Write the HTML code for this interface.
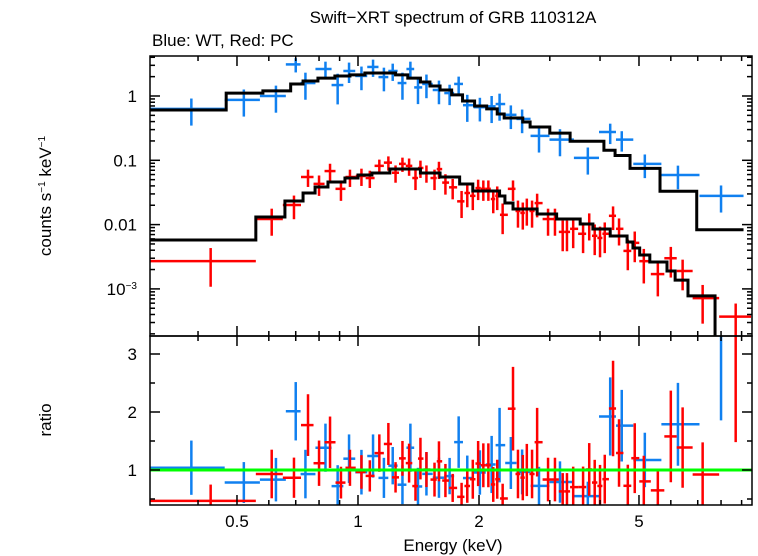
<!DOCTYPE html>
<html><head><meta charset="utf-8"><style>
html,body{margin:0;padding:0;background:#fff;}
svg{display:block;font-family:"Liberation Sans",Arial,sans-serif;}
</style></head><body>
<svg id="c" width="758" height="556" viewBox="0 0 758 556"></svg>
<script>
// ---- data ----
const wtEnergy=[0.385,0.52,0.625,0.70,0.74,0.83,0.89,0.95,1.02,1.09,1.16,1.22,1.29,1.35,1.41,1.48,1.59,1.69,1.78,1.87,2.01,2.15,2.25,2.40,2.56,2.82,3.18,3.73,4.24,4.53,5.17,6.25,8.0];
const wtRate=[0.63,0.87,1.0,3.1,1.59,2.63,1.48,2.45,2.05,2.83,1.97,2.45,1.59,2.63,1.36,1.54,1.24,1.11,1.54,0.72,0.67,0.69,0.75,0.51,0.44,0.24,0.21,0.109,0.275,0.21,0.088,0.059,0.028];
const wtErr=[0.45,0.45,0.45,0.25,0.45,0.3,0.5,0.35,0.4,0.3,0.4,0.3,0.45,0.3,0.45,0.4,0.4,0.35,0.3,0.45,0.4,0.45,0.45,0.4,0.4,0.45,0.45,0.45,0.35,0.35,0.4,0.4,0.45];
const wtFirstBin=[0.304,0.466];
const pcEnergy=[0.43,0.61,0.693,0.751,0.80,0.852,0.907,0.955,1.02,1.07,1.13,1.19,1.24,1.29,1.34,1.39,1.43,1.48,1.55,1.59,1.65,1.72,1.81,1.87,1.93,1.99,2.05,2.11,2.17,2.22,2.29,2.43,2.50,2.57,2.63,2.71,2.79,2.97,3.09,3.23,3.31,3.43,3.63,3.76,3.88,4.00,4.11,4.31,4.46,4.69,4.88,5.14,5.57,6.00,6.42,7.2,8.7];
const pcRate=[0.0027,0.0122,0.0202,0.055,0.043,0.068,0.036,0.055,0.057,0.053,0.082,0.092,0.064,0.088,0.082,0.053,0.076,0.064,0.053,0.073,0.045,0.038,0.023,0.031,0.028,0.037,0.036,0.036,0.025,0.028,0.0142,0.036,0.0163,0.0152,0.0175,0.0163,0.0216,0.0122,0.0122,0.0077,0.0077,0.0086,0.0072,0.0103,0.0067,0.0062,0.0072,0.0137,0.0086,0.0039,0.0052,0.0027,0.0017,0.0030,0.0019,0.00072,0.00037];
const pcErr=[0.6,0.45,0.4,0.3,0.35,0.3,0.35,0.3,0.3,0.3,0.25,0.25,0.3,0.25,0.3,0.35,0.3,0.3,0.35,0.3,0.35,0.35,0.45,0.4,0.4,0.35,0.35,0.35,0.4,0.4,0.5,0.35,0.45,0.45,0.45,0.45,0.4,0.45,0.45,0.5,0.5,0.5,0.5,0.45,0.5,0.5,0.5,0.4,0.45,0.5,0.5,0.55,0.55,0.5,0.5,0.6,0.6];
const pcFirstBin=[0.304,0.557];
const wtModelEdges=[0.304,0.47,0.58,0.68,0.73,0.795,0.876,0.955,1.04,1.24,1.33,1.43,1.51,1.60,1.71,1.82,1.95,2.09,2.22,2.31,2.57,2.68,3.0,3.37,4.09,4.36,4.75,5.64,6.96,9.1];
const wtModel=[0.606,1.11,1.20,1.54,1.71,1.90,2.05,2.13,2.28,2.13,1.90,1.65,1.43,1.24,1.04,0.836,0.70,0.63,0.525,0.455,0.394,0.33,0.265,0.198,0.143,0.119,0.075,0.033,0.0083];
const pcModelEdges=[0.304,0.557,0.658,0.73,0.782,0.842,0.928,1.0,1.083,1.20,1.43,1.60,1.79,1.93,2.25,2.32,2.43,2.79,3.12,3.57,3.84,4.24,4.67,4.83,5.02,5.32,5.87,6.15,6.62,7.73,9.1];
const pcModel=[0.00577,0.0131,0.0233,0.031,0.0385,0.046,0.053,0.059,0.0635,0.0733,0.0635,0.055,0.0428,0.0333,0.0279,0.0217,0.0175,0.0146,0.0122,0.0102,0.00855,0.00665,0.00536,0.00432,0.00336,0.00262,0.0019,0.00137,0.00078,0.0001];
const xTicks=[0.5,1,2,5];
const yTicks=[1,0.1,0.01,0.001];
const yTickLabels=["1","0.1","0.01","10<tspan dy='-6' font-size='10'>−3</tspan>"];
const rTicks=[1,2,3];

// ---- axes ----
const L=150,R=752,T=56,M=336,B=505;
const X=e=>358+402*Math.log10(e);
const Y=v=>96-64.3*Math.log10(v);
const YR=r=>470-58*(r-1);
const svg=document.getElementById('c');
const NS='http://www.w3.org/2000/svg';
function mk(tag,attrs,parent){const el=document.createElementNS(NS,tag);for(const k in attrs)el.setAttribute(k,attrs[k]);(parent||svg).appendChild(el);return el;}
function line(x1,y1,x2,y2,col,w,p){return mk('line',{x1,y1,x2,y2,stroke:col,'stroke-width':w},p);}
const clipT=mk('clipPath',{id:'ct'});mk('rect',{x:L,y:T,width:R-L,height:M-T},clipT);
const clipB=mk('clipPath',{id:'cb'});mk('rect',{x:L,y:M,width:R-L,height:B-M},clipB);
const gT=mk('g',{'clip-path':'url(#ct)'});


const gB=mk('g',{'clip-path':'url(#cb)'});



function edgesOf(E,firstBin,last){const lo=[],hi=[];for(let i=0;i<E.length;i++){lo.push(i==0?firstBin[0]:(i==1?firstBin[1]:Math.sqrt(E[i-1]*E[i])));hi.push(i==0?firstBin[1]:(i==E.length-1?last:Math.sqrt(E[i]*E[i+1])));}return [lo,hi];}
function modelAt(edges,vals,e){for(let i=0;i<vals.length;i++){if(e>=edges[i]&&e<edges[i+1])return vals[i];}return vals[vals.length-1];}
function drawSeries(E,V,F,col,firstBin,last,edges,model,name){
  const [lo,hi]=edgesOf(E,firstBin,last);
  for(let i=0;i<E.length;i++){
    const g=mk('g',{},gT);
    
    
    const y=Y(V[i]);
    line(X(lo[i]),y,X(hi[i]),y,col,2.5,g);
    line(X(E[i]),Y(V[i]*(1+F[i])),X(E[i]),Y(Math.max(V[i]*(1-F[i]),1e-5)),col,2.5,g);
    const r=V[i]/modelAt(edges,model,E[i]);
    const g2=mk('g',{},gB);
    
    
    line(X(lo[i]),YR(r),X(hi[i]),YR(r),col,2.5,g2);
    line(X(E[i]),YR(r*(1+F[i])),X(E[i]),YR(r*(1-F[i])),col,2.5,g2);
  }
}
function drawModel(edges,vals,name){
  let d='';
  for(let i=0;i<vals.length;i++){const y=Y(vals[i]);d+=(i==0?'M':'L')+X(edges[i])+','+y+'L'+X(edges[i+1])+','+y;}
  const p=mk('path',{d,fill:'none',stroke:'#000','stroke-width':3},gT);
  
  
}
drawSeries(wtEnergy,wtRate,wtErr,'#1080f0',wtFirstBin,9.1,wtModelEdges,wtModel,'wt');
drawSeries(pcEnergy,pcRate,pcErr,'#ff0000',pcFirstBin,9.5,pcModelEdges,pcModel,'pc');
drawModel(wtModelEdges,wtModel,'wt-model-line');
drawModel(pcModelEdges,pcModel,'pc-model-line');
const gl=line(L,YR(1),R,YR(1),'#00ff00',3,gB);



// frames
const f1=mk('rect',{x:L,y:T,width:R-L,height:M-T,fill:'none',stroke:'#000','stroke-width':1.5});


const f2=mk('rect',{x:L,y:M,width:R-L,height:B-M,fill:'none',stroke:'#000','stroke-width':1.5});



// x ticks
const minorX=[0.4,0.6,0.7,0.8,0.9,3,4,6,7,8,9];
[[T,M],[M,B]].forEach(([a,b])=>{
  xTicks.forEach(e=>{line(X(e),a,X(e),a+10,'#000',1.5);line(X(e),b,X(e),b-10,'#000',1.5);});
  minorX.forEach(e=>{line(X(e),a,X(e),a+5,'#000',1.5);line(X(e),b,X(e),b-5,'#000',1.5);});
});
xTicks.forEach(e=>{
  const t=mk('text',{x:X(e),y:527,'text-anchor':'middle','font-size':17});
  t.textContent=String(e);
  
  
});
// y ticks top
for(let d=-4;d<=0;d++){for(let m=1;m<10;m++){const v=m*Math.pow(10,d);const y=Y(v);if(y<T||y>M)continue;const len=m==1?10:5;line(L,y,L+len,y,'#000',1.5);line(R,y,R-len,y,'#000',1.5);}}
yTicks.forEach((v,i)=>{
  const t=mk('text',{x:137,y:Y(v)+6,'text-anchor':'end','font-size':17});
  t.innerHTML=yTickLabels[i];
  
  
});
// ratio ticks
[0.5,1,1.5,2,2.5,3].forEach(r=>{const len=Number.isInteger(r)?10:5;line(L,YR(r),L+len,YR(r),'#000',1.5);line(R,YR(r),R-len,YR(r),'#000',1.5);});
rTicks.forEach(r=>{
  const t=mk('text',{x:137,y:YR(r)+6,'text-anchor':'end','font-size':17});
  t.textContent=String(r);
  
  
});
function txt(x,y,s,attrs,name){const t=mk('text',Object.assign({x,y,'font-size':17},attrs));t.innerHTML=s;return t;}
txt(453,23,'Swift−XRT spectrum of GRB 110312A',{'text-anchor':'middle'},'chart-title');
txt(152,46,'Blue: WT, Red: PC',{},'subtitle');
txt(453,551,'Energy (keV)',{'text-anchor':'middle'},'x-axis-title');
txt(0,0,"counts s<tspan dy='-6' font-size='10'>−1</tspan><tspan dy='6'> keV</tspan><tspan dy='-6' font-size='10'>−1</tspan>",{'text-anchor':'middle',transform:'translate(51,196) rotate(-90)'},'y-axis-title');
txt(0,0,'ratio',{'text-anchor':'middle',transform:'translate(51,420) rotate(-90)'},'ratio-axis-title');
</script>
</body></html>
